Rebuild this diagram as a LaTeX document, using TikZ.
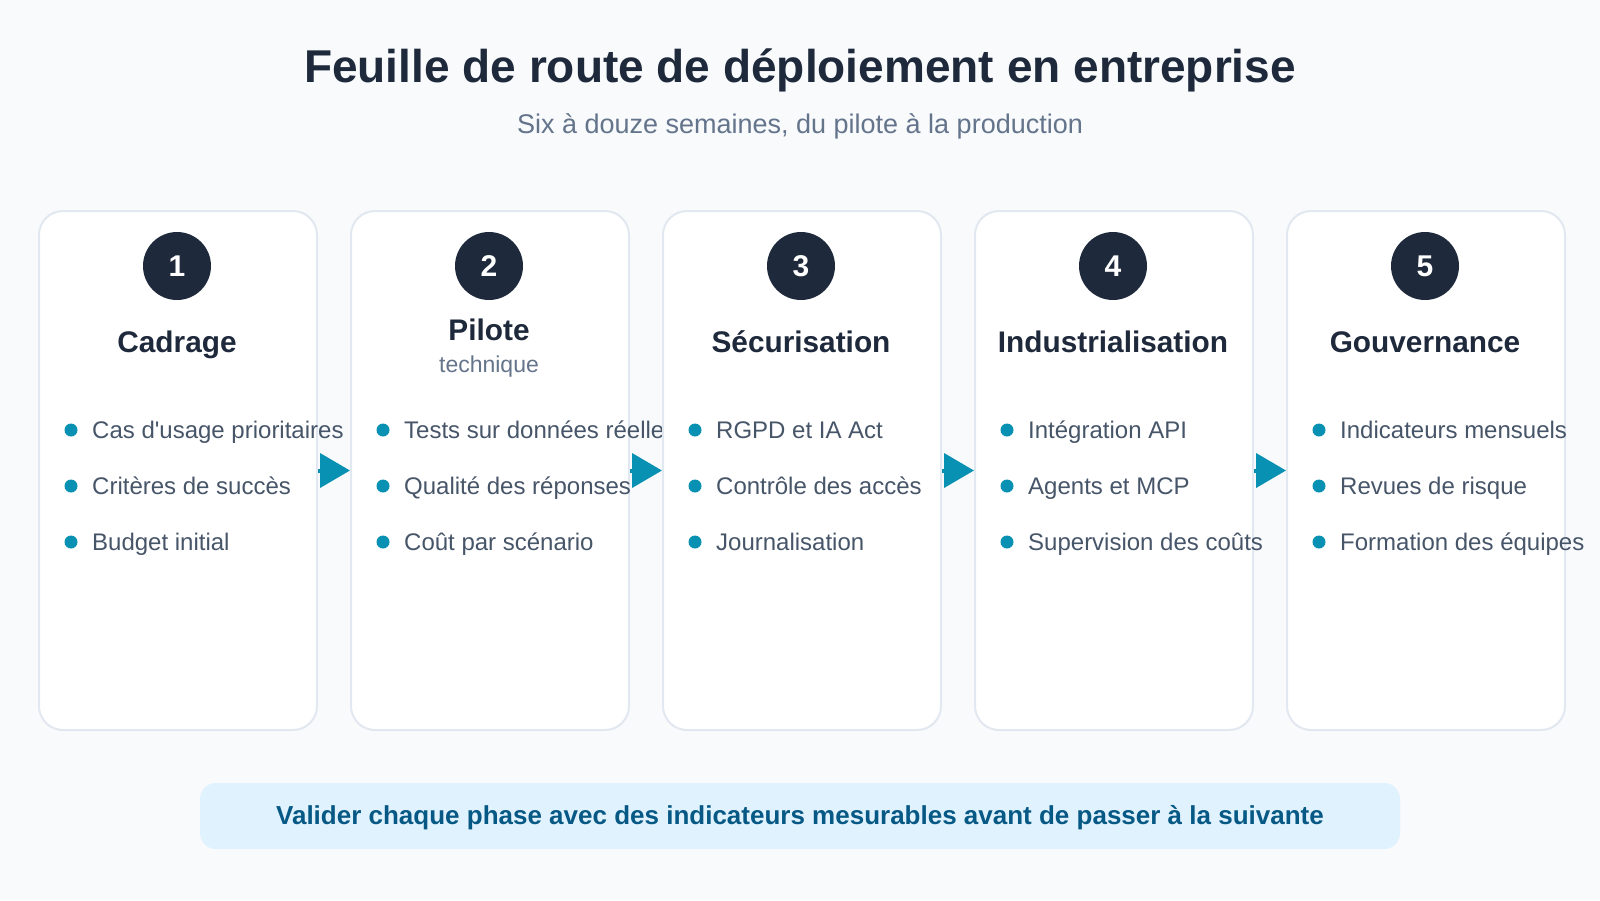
\documentclass[tikz,border=0pt]{standalone}
\usepackage{fontspec}
\setmainfont{Liberation Sans}[Ligatures=TeXOff]
\usetikzlibrary{arrows.meta}
\definecolor{bgc}{HTML}{F8FAFC}
\definecolor{cardline}{HTML}{E2E8F0}
\definecolor{navy}{HTML}{1E293B}
\definecolor{slate}{HTML}{475569}
\definecolor{greyc}{HTML}{64748B}
\definecolor{tealc}{HTML}{0891B2}
\definecolor{bannerfill}{HTML}{E0F2FE}
\definecolor{bannertext}{HTML}{075985}
\tikzset{
  card/.style={draw=cardline, line width=2pt, fill=white, rounded corners=24pt,
    minimum width=278pt, minimum height=519pt, anchor=north west, inner sep=0pt},
  num/.style={circle, fill=navy, minimum size=68pt, inner sep=0pt, text=white,
    font=\fontsize{30}{30}\selectfont\bfseries},
  ttl/.style={anchor=base, inner sep=0pt, text=navy, font=\fontsize{29.8}{32}\selectfont\bfseries},
  sub/.style={anchor=base, inner sep=0pt, text=greyc, font=\fontsize{23}{26}\selectfont},
  bul/.style={anchor=base west, inner sep=0pt, text=slate, font=\fontsize{24}{28}\selectfont},
  dot/.style={circle, fill=tealc, minimum size=13pt, inner sep=0pt},
  flow/.style={draw=tealc, line width=4pt, -{Triangle[length=30pt,width=34pt]}},
}
\begin{document}
\begin{tikzpicture}[x=1pt,y=-1pt]
\fill[bgc] (0,0) rectangle (1600,900);
\useasboundingbox (0,0) rectangle (1600,900);

\node[anchor=base, inner sep=0pt, text=navy, font=\fontsize{46}{50}\selectfont\bfseries] (title) at (800,82) {Feuille de route de déploiement en entreprise};
\node[anchor=base, inner sep=0pt, text=greyc, font=\fontsize{27}{30}\selectfont] (subtitle) at (800,133) {Six à douze semaines, du pilote à la production};

\foreach \i/\a/\b/\c in {1/Cas d'usage prioritaires/Critères de succès/Budget initial,
  2/Tests sur données réelles/Qualité des réponses/Coût par scénario,
  3/RGPD et IA Act/Contrôle des accès/Journalisation,
  4/Intégration API/Agents et MCP/Supervision des coûts,
  5/Indicateurs mensuels/Revues de risque/Formation des équipes}{
  \pgfmathsetmacro{\L}{38+312*(\i-1)}
  \node[card] (c\i) at (\L,210) {};
  \node[dot] (d\i-1) at (\L+33,430) {};
  \node[dot] (d\i-2) at (\L+33,486) {};
  \node[dot] (d\i-3) at (\L+33,542) {};
  \node[bul] (b\i-1) at (\L+54,438.5) {\a};
  \node[bul] (b\i-2) at (\L+54,494.5) {\b};
  \node[bul] (b\i-3) at (\L+54,550.5) {\c};
}

\foreach \i in {1,...,5}{
  \node[num] (n\i) at ({177+312*(\i-1)},266) {\i};
}
\node[ttl] (t1) at (177,352) {Cadrage};
\node[ttl] (t2) at (489,340) {Pilote};
\node[sub] (s2) at (489,372) {technique};
\node[ttl] (t3) at (801,352) {Sécurisation};
\node[ttl] (t4) at (1113,352) {Industrialisation};
\node[ttl] (t5) at (1425,352) {Gouvernance};

\draw[flow] (c1.east) -- (c2.west);
\draw[flow] (c2.east) -- (c3.west);
\draw[flow] (c3.east) -- (c4.west);
\draw[flow] (c4.east) -- (c5.west);

\node[fill=bannerfill, rounded corners=16pt, minimum width=1200pt, minimum height=66pt, inner sep=0pt] (banner) at (800,816) {};
\node[anchor=base, inner sep=0pt, text=bannertext, font=\fontsize{26}{28}\selectfont\bfseries] (bannertxt) at (800,824.5) {Valider chaque phase avec des indicateurs mesurables avant de passer à la suivante};
\end{tikzpicture}
\end{document}
